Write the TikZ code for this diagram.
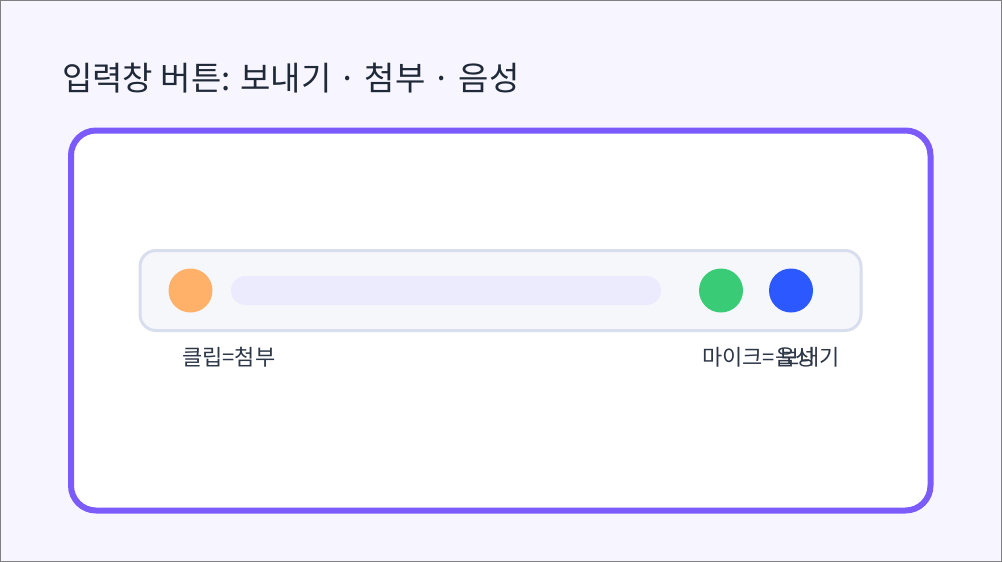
\documentclass[tikz,border=0pt]{standalone}
\usepackage{fontspec}
\usepackage{tikz}
\usetikzlibrary{positioning}
\newfontfamily\krfont{Noto Sans CJK KR}
\definecolor{pagebg}{HTML}{F7F5FF}
\definecolor{panelline}{HTML}{7B5CFA}
\definecolor{titleink}{HTML}{1F2937}
\definecolor{labelink}{HTML}{2D3748}
\definecolor{barfill}{HTML}{F6F7FB}
\definecolor{barline}{HTML}{D9DEEE}
\definecolor{fieldfill}{HTML}{ECEAFD}
\definecolor{clipcol}{HTML}{FFB169}
\definecolor{miccol}{HTML}{3ACB76}
\definecolor{sendcol}{HTML}{2B59FF}
\tikzset{btn/.style = {fill, circle, inner sep = 0, minimum size = 44}}
\tikzset{lbl/.style = {anchor = west, inner sep = 0, text = labelink, font = \krfont\fontsize{22}{26}\selectfont}}

\begin{document}
\begin{tikzpicture}[x=1pt, y=-1pt]
      \useasboundingbox (0, 0) rectangle (1002, 562);
      \fill [pagebg] (0, 0) rectangle (1002, 562);
      \draw [gray, line width=1] (0.5, 0.5) rectangle (1001.5, 561.5);

      \node [anchor=west, inner sep=0, text=titleink, font=\krfont\fontsize{33}{40}\selectfont] at (62, 78) (title) {입력창 버튼: 보내기 · 첨부 · 음성};

      \node [draw=panelline, fill=white, line width=6, rounded corners=25, inner sep=0, minimum width=859.5, minimum height=380] at (500.75, 320.5) (panel) {};
      \node [draw=barline, fill=barfill, line width=3, rounded corners=16, inner sep=0, minimum width=721, minimum height=80] at (500.5, 290.5) (bar) {};
      \node [fill=fieldfill, rounded corners=14.5, inner sep=0, minimum width=430, minimum height=29] at (446, 290.5) (field) {};

      \node [btn, clipcol] at (190.5, 290.5) (clip) {};
      \node [btn, miccol] at (721, 290.5) (mic) {};
      \node [btn, sendcol] at (791, 290.5) (send) {};

      \node [lbl] at (182, 357.5) (cliplbl) {클립=첨부};
      \node [lbl] at (702, 357.5) (miclbl) {마이크=음성};
      \node [lbl] at (779, 357.5) (sendlbl) {보내기};
    \end{tikzpicture}
\end{document}
